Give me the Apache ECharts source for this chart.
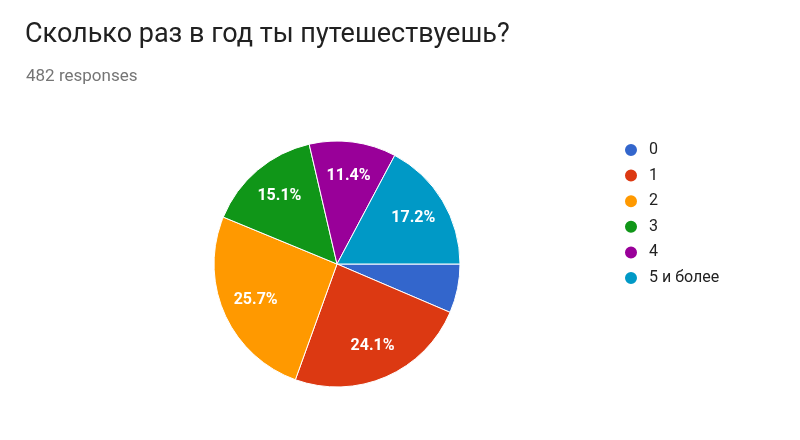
<!DOCTYPE html>
<html>
<head>
<meta charset="utf-8">
<script src="https://cdn.jsdelivr.net/npm/echarts@6/dist/echarts.min.js"></script>
<style>
  html, body { margin: 0; padding: 0; background: #fff; }
  #chart { width: 800px; height: 440px; }
</style>
</head>
<body>
<div id="chart"></div>
<script>
const categories = ['0', '1', '2', '3', '4', '5 и более'];
const counts = [31, 116, 124, 73, 55, 83];
const colors = ['#3366cc', '#dc3912', '#ff9900', '#109618', '#990099', '#0099c6'];

const total = counts.reduce(function (a, b) { return a + b; }, 0);
const data = categories.map(function (name, i) {
    return { name: name, value: counts[i] };
});

const chart = echarts.init(document.getElementById('chart'));
chart.setOption({
    color: colors,
    textStyle: { fontFamily: 'Roboto' },
    title: [
        {
            text: 'Сколько раз в год ты путешествуешь?',
            left: 20,
            top: 17,
            textStyle: { fontSize: 27, fontWeight: 'normal', color: '#212121', fontFamily: 'Roboto' }
        },
        {
            text: '482 responses',
            left: 21,
            top: 63,
            textStyle: { fontSize: 17, fontWeight: 'normal', color: '#757575', fontFamily: 'Roboto' }
        }
    ],
    legend: {
        orient: 'vertical',
        left: 618,
        top: 137,
        icon: 'circle',
        itemWidth: 14,
        itemHeight: 14,
        itemGap: 9.6,
        textStyle: { fontSize: 16, color: '#222', padding: [0, 0, 0, 6] },
        data: categories
    },
    series: [
        {
            type: 'pie',
            center: [337, 264],
            radius: [0, 123],
            startAngle: 0,
            clockwise: true,
            silent: true,
            label: { show: false },
            labelLine: { show: false },
            itemStyle: { borderColor: '#fff', borderWidth: 1 },
            data: data
        },
        {
            // transparent ring that only carries the labels
            type: 'pie',
            center: [337, 264],
            radius: [49, 123],
            startAngle: 0,
            clockwise: true,
            silent: true,
            legendHoverLink: false,
            itemStyle: { color: 'rgba(0,0,0,0)' },
            label: {
                show: true,
                position: 'inside',
                color: '#fff',
                fontSize: 16,
                fontWeight: 'bold',
                formatter: function (p) {
                    const pct = p.value / total * 100;
                    return pct < 10 ? '' : pct.toFixed(1) + '%';
                }
            },
            labelLine: { show: false },
            data: data
        }
    ]
});
</script>
</body>
</html>
